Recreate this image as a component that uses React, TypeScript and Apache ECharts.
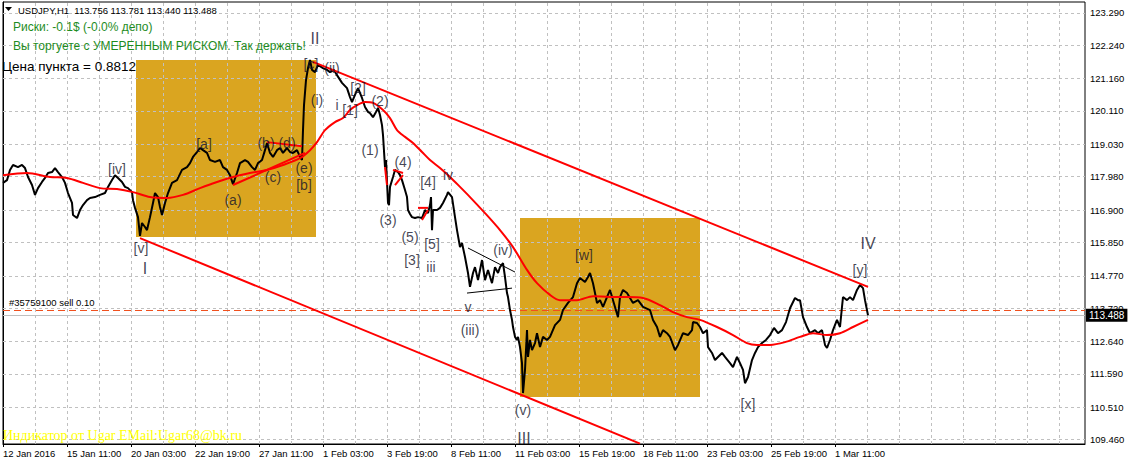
import React, { useEffect, useRef } from 'react';
import * as echarts from 'echarts';

const W = 1129;
const H = 464;

// x axis: hourly bars, one label every 64 bars
const xTickLabels = ['12 Jan 2016', '15 Jan 11:00', '20 Jan 03:00', '22 Jan 19:00', '27 Jan 11:00', '1 Feb 03:00', '3 Feb 19:00', '8 Feb 11:00', '11 Feb 03:00', '15 Feb 19:00', '18 Feb 11:00', '23 Feb 03:00', '25 Feb 19:00', '1 Mar 11:00'];
const barsPerLabel = 64;
const barsPerGrid = 32;
const totalBars = 1082;

// y axis tick labels (price)
const yTickValues = [109.46, 110.51, 111.59, 112.64, 113.72, 114.77, 115.85, 116.9, 117.98, 119.03, 120.11, 121.16, 122.24, 123.29];
const yMin = 109.32;
const yMax = 123.64;

// USDJPY H1 price path [bar index, price]
const priceBars: [number, number][] = [
  [0, 117.78], [4, 117.87], [7, 118.2], [10, 118.36], [15, 118.29], [19, 118.36], [22, 118.26], [25, 117.97], [29, 117.71], [32, 117.39], [35, 117.61], [39, 117.81], [42, 117.94], [45, 118.1], [49, 118.13], [52, 118.26], [55, 118.13], [59, 117.97], [62, 117.78], [65, 117.45], [69, 117.13], [70, 116.74], [74, 116.64], [77, 116.9], [80, 117.06], [84, 117.22], [87, 117.29], [92, 117.32], [97, 117.39], [102, 117.45], [105, 117.65], [109, 117.87], [112, 118.03], [115, 117.94], [119, 117.81], [122, 117.65], [125, 117.61], [129, 117.48], [130, 117.22], [132, 116.97], [135, 116.67], [137, 116.06], [139, 116.48], [142, 116.35], [144, 116.25], [147, 116.67], [150, 117.13], [152, 117.45], [155, 117.32], [157, 117.0], [159, 116.74], [162, 117.13], [165, 117.45], [169, 117.78], [174, 117.87], [179, 118.2], [184, 118.29], [187, 118.42], [190, 118.62], [194, 118.78], [197, 118.91], [200, 118.84], [204, 118.75], [207, 118.52], [212, 118.46], [217, 118.52], [220, 118.29], [224, 118.2], [227, 118.03], [230, 117.74], [234, 118.1], [237, 118.42], [242, 118.52], [245, 118.46], [249, 118.29], [252, 118.2], [255, 118.42], [259, 118.52], [262, 118.84], [264, 119.07], [267, 118.75], [270, 118.62], [274, 118.84], [277, 118.91], [280, 118.75], [284, 118.91], [287, 118.78], [290, 118.75], [294, 118.84], [297, 118.62], [299, 118.52],
  [300, 119.49], [301, 120.3], [303, 121.11], [305, 121.5], [307, 121.76], [309, 121.44], [312, 121.37], [315, 121.6], [320, 121.5], [324, 121.44], [327, 121.37], [331, 121.44], [334, 121.27], [339, 121.02], [344, 120.85], [347, 120.56], [349, 120.4], [352, 120.63], [355, 120.85], [359, 120.53], [362, 120.24], [365, 120.08], [367, 120.04], [370, 119.91], [373, 120.08], [375, 120.21], [377, 119.98], [379, 119.65], [380, 119.33], [382, 118.29], [383, 118.52], [384, 117.81], [385, 117.13], [386, 117.06], [387, 117.65], [390, 117.97], [392, 118.2], [395, 118.13], [397, 118.03], [399, 117.87], [402, 117.55], [404, 117.32], [405, 116.9], [407, 116.77], [409, 116.67], [412, 116.64], [415, 116.67], [419, 116.64], [422, 116.9], [425, 116.8], [427, 117.06], [428, 117.32], [429, 116.25], [430, 116.9], [434, 116.9], [437, 116.97], [440, 117.13], [444, 117.39], [445, 117.48], [449, 117.32], [452, 116.67], [454, 116.25], [457, 115.7], [459, 115.83], [462, 115.38], [465, 114.86], [467, 114.41], [470, 114.86], [472, 115.05], [475, 114.63], [479, 115.28], [482, 114.63], [485, 114.96], [489, 114.53], [492, 115.05], [495, 114.86], [497, 115.05], [500, 115.18], [502, 114.73], [504, 114.21], [505, 114.08], [507, 113.66], [509, 113.34], [510, 113.11], [512, 112.79], [514, 112.69], [515, 112.79], [517, 112.46], [519, 111.94], [520, 110.97], [522, 111.72], [524, 113.01], [525, 112.14], [527, 112.69], [529, 112.36], [532, 112.59], [534, 112.91], [537, 112.46], [540, 112.79], [544, 112.69], [547, 112.79], [552, 113.17], [557, 113.34], [560, 113.66], [565, 113.89], [570, 114.08], [574, 114.53], [577, 114.7], [582, 114.57], [585, 114.73], [587, 114.86], [590, 114.53], [592, 114.21], [594, 113.89], [597, 113.98], [600, 113.76], [604, 114.08], [607, 114.31], [612, 113.76], [615, 113.43], [617, 114.08], [620, 114.31], [624, 114.21], [627, 114.05], [630, 113.89], [635, 113.98], [640, 113.76], [647, 113.66], [650, 113.34], [654, 113.11], [657, 112.79], [660, 113.01], [664, 112.91], [667, 112.79], [672, 112.36], [675, 112.53], [680, 112.91], [685, 112.85], [689, 113.01], [690, 113.27], [694, 113.24], [697, 113.11], [700, 112.91], [704, 113.01], [705, 112.46], [709, 112.27], [712, 112.04], [715, 112.14], [719, 112.27], [722, 112.14], [727, 111.94], [730, 111.81], [734, 112.14], [737, 111.94], [740, 111.72], [742, 111.29], [745, 111.49], [749, 112.04], [752, 112.27], [755, 112.46], [759, 112.59], [763, 112.69], [767, 112.85], [771, 113.08], [775, 112.91], [779, 113.01], [783, 113.27], [787, 113.72], [792, 114.05], [795, 113.98], [797, 113.98], [800, 113.43], [804, 113.11], [807, 112.91], [812, 113.01], [815, 112.91], [819, 113.01], [822, 112.53], [824, 112.43], [827, 112.69], [830, 113.01], [834, 113.34], [837, 113.11], [839, 113.76], [840, 114.08], [844, 113.98], [847, 114.08], [850, 113.98], [854, 114.31], [857, 114.47], [860, 114.37], [862, 113.98], [865, 113.49],
];

// moving average [bar index, price]
const maBars: [number, number][] = [
  [0, 118.03], [24, 118.1], [47, 117.97], [64, 117.94], [80, 117.78], [97, 117.61], [114, 117.58], [130, 117.48], [147, 117.32], [164, 117.29], [180, 117.39], [197, 117.61], [214, 117.81], [230, 117.97], [247, 118.1], [264, 118.2], [280, 118.36], [297, 118.58], [307, 118.84], [314, 119.1], [322, 119.49], [332, 119.75], [340, 119.88], [347, 120.14], [354, 120.3], [362, 120.4], [370, 120.37], [380, 120.14], [387, 119.88], [394, 119.49], [402, 119.27], [410, 119.07], [419, 118.78], [427, 118.52], [437, 118.26], [447, 117.97], [457, 117.65], [467, 117.32], [482, 116.8], [497, 116.25], [510, 115.7], [524, 114.96], [534, 114.53], [547, 114.15], [557, 113.98], [574, 113.98], [590, 114.11], [607, 114.08], [624, 114.08], [640, 114.05], [657, 113.82], [670, 113.59], [684, 113.43], [697, 113.34], [714, 113.11], [730, 112.85], [744, 112.59], [754, 112.53], [767, 112.53], [782, 112.62], [797, 112.79], [810, 112.91], [824, 112.85], [837, 112.91], [850, 113.11], [865, 113.34],
];

const channelUpper: [number, number][] = [[310, 121.7], [865, 114.41]];
const channelLower: [number, number][] = [[137, 115.99], [637, 109.33]];

const redTrendlines: [number, number][][] = [
  [[230, 117.71], [302, 118.75]],
  [[264, 119.1], [299, 118.97]],
  [[382, 118.29], [384, 117.71]],
  [[390, 118.2], [400, 118.1]],
  [[392, 117.71], [400, 118.03]],
  [[415, 116.97], [425, 116.97]],
  [[419, 116.58], [425, 116.9]],
];
const blackTrendlines: [number, number][][] = [
  [[465, 115.67], [512, 114.89]],
  [[464, 114.21], [509, 114.37]],
];

// goldenrod boxes [startBar, topPrice, endBar, bottomPrice]
const boxes: [number, number, number, number][] = [
  [133, 121.76, 313, 116.03],
  [517, 116.64, 697, 110.84],
];

const bidPrice = 113.488;
const orderPrice = 113.66;

// wave labels [text, bar index, price]
const waveLabels: [string, number, number][] = [
  ['[iv]', 114, 118.23], ['[v]', 138, 115.67], ['I', 142, 115.02], ['[a]', 201, 119.04], ['(a)', 230, 117.22],
  ['(b)', 263, 119.07], ['(c)', 270, 117.97], ['(d)', 284, 119.07], ['(e)', 301, 118.27], ['[b]', 301, 117.7],
  ['II', 312, 122.47], ['[c]', 308, 121.63], ['(i)', 314, 120.46], ['(ii)', 329, 121.5], ['i', 334, 120.3],
  ['[1]', 347, 120.14], ['[2]', 355, 120.85], ['(2)', 377, 120.43], ['(1)', 367, 118.84], ['(4)', 400, 118.46],
  ['(3)', 385, 116.58], ['[4]', 425, 117.81], ['iv', 445, 118.03], ['(5)', 407, 116.03], ['[5]', 429, 115.8],
  ['[3]', 409, 115.28], ['iii', 428, 115.05], ['(iv)', 500, 115.6], ['v', 465, 113.75], ['(iii)', 467, 113.01],
  ['(v)', 520, 110.42], ['III', 521, 109.51], ['[w]', 581, 115.44], ['[x]', 745, 110.61], ['IV', 865, 115.8],
  ['[y]', 857, 114.96],
];

const FONT = 'Liberation Sans, Arial, sans-serif';

export default function App() {
  const ref = useRef<HTMLDivElement>(null);
  useEffect(() => {
    document.body.style.margin = '0';
    const chart = echarts.init(ref.current!, null, { renderer: 'svg', width: W, height: H });

    const xTickValues = xTickLabels.map((_, i) => i * barsPerLabel);
    const xGridValues: number[] = [];
    for (let v = barsPerGrid; v < totalBars; v += barsPerGrid) xGridValues.push(v);

    const gridLine = { color: '#C0C0C0', width: 1, type: [3, 3] as any };

    const series: any[] = [
      {
        name: 'boxes', type: 'line', data: [], z: 1, silent: true,
        markArea: {
          silent: true,
          itemStyle: { color: '#DAA520', opacity: 1 },
          data: boxes.map((b) => [{ xAxis: b[0], yAxis: b[1] }, { xAxis: b[2], yAxis: b[3] }]),
        },
      },
      {
        name: 'hgrid', type: 'line', data: [], z: 2, silent: true,
        markLine: {
          silent: true, symbol: ['none', 'none'], label: { show: false }, lineStyle: gridLine,
          data: yTickValues.map((v) => ({ yAxis: v })),
        },
      },
      {
        name: 'vgrid', type: 'line', data: [], z: 2, silent: true,
        markLine: {
          silent: true, symbol: ['none', 'none'], label: { show: false }, lineStyle: gridLine,
          data: xGridValues.map((v) => ({ xAxis: v })),
        },
      },
      {
        name: 'order', type: 'line', data: [], z: 3, silent: true,
        markLine: {
          silent: true, symbol: ['none', 'none'], label: { show: false },
          lineStyle: { color: '#F0501E', width: 1, type: [7, 4] as any },
          data: [{ yAxis: orderPrice }],
        },
      },
      {
        name: 'bid', type: 'line', data: [], z: 3, silent: true,
        markLine: {
          silent: true, symbol: ['none', 'none'],
          lineStyle: { color: '#C0C0C0', width: 1, type: 'solid' },
          label: {
            show: true, position: 'end', distance: 1, formatter: bidPrice.toFixed(3),
            color: '#fff', backgroundColor: '#000', padding: [2, 3, 1, 3], fontSize: 10, fontFamily: FONT,
          },
          data: [{ yAxis: bidPrice }],
        },
      },
      {
        name: 'price', type: 'line', data: priceBars, showSymbol: false, z: 5, silent: true,
        lineStyle: { color: '#000', width: 2 }, itemStyle: { color: '#000' },
      },
      {
        name: 'ma', type: 'line', data: maBars, showSymbol: false, smooth: 0.3, z: 6, silent: true,
        lineStyle: { color: '#FF0000', width: 2 },
      },
      {
        name: 'chUp', type: 'line', data: channelUpper, showSymbol: false, z: 6, silent: true,
        lineStyle: { color: '#FF0000', width: 2 },
      },
      {
        name: 'chLow', type: 'line', data: channelLower, showSymbol: false, z: 6, silent: true,
        lineStyle: { color: '#FF0000', width: 2 },
      },
      ...redTrendlines.map((t, i) => ({
        name: 'rt' + i, type: 'line', data: t, showSymbol: false, z: 6, silent: true,
        lineStyle: { color: '#FF0000', width: 2 },
      })),
      ...blackTrendlines.map((t, i) => ({
        name: 'bt' + i, type: 'line', data: t, showSymbol: false, z: 6, silent: true,
        lineStyle: { color: '#000', width: 1 },
      })),
      {
        name: 'waves', type: 'scatter', z: 10, silent: true, symbolSize: 1,
        itemStyle: { color: 'rgba(0,0,0,0)' },
        data: waveLabels.map((w) => ({
          name: w[0], value: [w[1], w[2]],
          label: /^[IV]+$/.test(w[0]) ? { fontSize: 16 } : undefined,
        })),
        label: {
          show: true, position: 'inside', formatter: '{b}', color: '#14142a', fontSize: 14, fontFamily: FONT,
          textBorderWidth: 0, textBorderColor: 'transparent',
        },
      },
    ];

    const option: any = {
      animation: false,
      backgroundColor: '#fff',
      grid: { left: 3, right: 44, top: 2, bottom: 20, show: true, borderColor: '#000', borderWidth: 1, backgroundColor: 'transparent' },
      xAxis: {
        type: 'value', min: 0, max: totalBars,
        axisLine: { show: true, lineStyle: { color: '#000' } },
        splitLine: { show: false },
        axisTick: { show: true, customValues: xTickValues, length: 3, lineStyle: { color: '#000' } },
        axisLabel: {
          show: true, customValues: xTickValues, align: 'left', margin: 4, color: '#000', fontSize: 9.5, fontFamily: FONT,
          formatter: (v: number) => xTickLabels[Math.round(v / barsPerLabel)] ?? '',
        },
      },
      yAxis: {
        type: 'value', position: 'right', min: yMin, max: yMax,
        axisLine: { show: true, lineStyle: { color: '#000' } },
        splitLine: { show: false },
        axisTick: { show: true, customValues: yTickValues, length: 3, lineStyle: { color: '#000' } },
        axisLabel: {
          show: true, customValues: yTickValues, margin: 5, color: '#000', fontSize: 9.5, fontFamily: FONT,
          formatter: (v: number) => v.toFixed(3),
        },
      },
      graphic: [
        { type: 'polygon', shape: { points: [[5, 7], [12, 7], [8.5, 11]] }, style: { fill: '#000' }, z: 20 },
        { type: 'text', left: 18, top: 5, z: 20, style: { text: 'USDJPY,H1  113.756 113.781 113.440 113.488', fill: '#000', font: `9.5px ${FONT}` } },
        { type: 'text', left: 13, top: 21, z: 20, style: { text: 'Риски: -0.1$ (-0.0% депо)', fill: '#1E8C1E', font: `12px ${FONT}` } },
        { type: 'text', left: 13, top: 40, z: 20, style: { text: 'Вы торгуете с УМЕРЕННЫМ РИСКОМ. Так держать!', fill: '#1E8C1E', font: `12px ${FONT}` } },
        { type: 'text', left: 2, top: 59, z: 20, style: { text: 'Цена пункта = 0.8812', fill: '#000', font: `13.5px ${FONT}` } },
        { type: 'text', left: 9, top: 297, z: 20, style: { text: '#35759100 sell 0.10', fill: '#000', font: `9.5px ${FONT}` } },
        { type: 'text', left: 3, top: 428, z: 20, style: { text: 'Индикатор от Ugar EMail:Ugar68@bk.ru', fill: '#FFFF00', font: '14px Liberation Serif, Times New Roman, serif' } },
      ],
      series,
    };

    chart.setOption(option);
    return () => chart.dispose();
  }, []);

  return <div ref={ref} style={{ width: W, height: H, position: 'absolute', left: 0, top: 0 }} />;
}
